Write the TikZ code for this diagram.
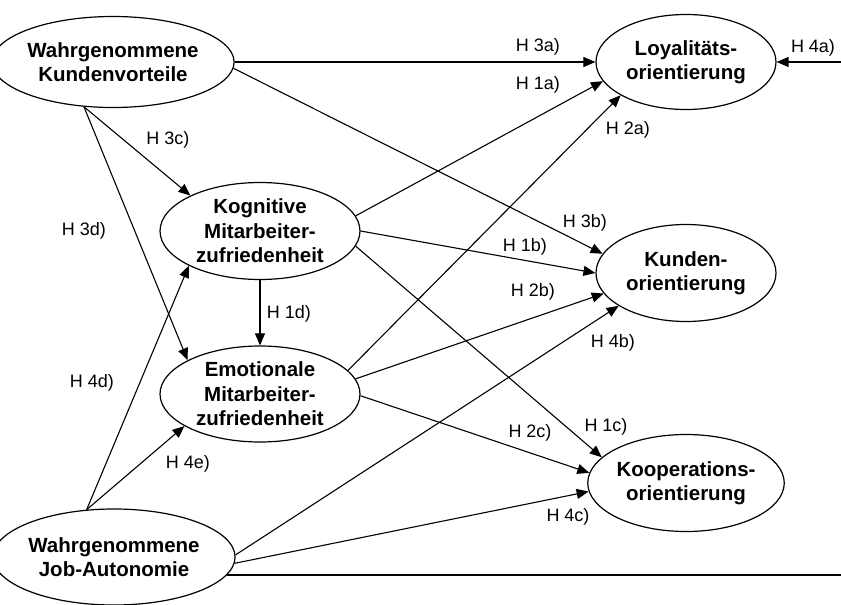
\documentclass[tikz,border=0pt]{standalone}
\usepackage{fontspec}
\setmainfont{Liberation Sans}
\usetikzlibrary{shapes.geometric,arrows.meta}
\begin{document}
\begin{tikzpicture}[x=1pt,y=-1pt,
  var/.style={ellipse,draw,line width=1.2pt,inner sep=0pt,align=center,
    font=\fontsize{20.5}{24.5}\selectfont\bfseries},
  lbl/.style={font=\fontsize{18}{21}\selectfont,inner sep=0pt},
  link/.style={line width=1.1pt,-{Triangle[length=12pt,width=10pt]}},
  plain/.style={line width=1.4pt}]
\useasboundingbox (0,0) rectangle (841,605);

\node[var,minimum width=200pt,minimum height=91pt] (kv) at (113,62) {Wahrgenommene\\Kundenvorteile};
\node[var,minimum width=180pt,minimum height=95pt] (loy) at (686,62) {Loyalitäts-\\orientierung};
\node[var,minimum width=200pt,minimum height=97pt] (kog) at (260,231) {Kognitive\\Mitarbeiter-\\zufriedenheit};
\node[var,minimum width=200pt,minimum height=96pt] (emo) at (260,394) {Emotionale\\Mitarbeiter-\\zufriedenheit};
\node[var,minimum width=180pt,minimum height=97pt] (kun) at (686,273) {Kunden-\\orientierung};
\node[var,minimum width=180pt,minimum height=97pt] (koo) at (686,483) {Kooperations-\\orientierung};
\node[var,minimum width=198pt,minimum height=96pt] (job) at (114,557) {Wahrgenommene\\Job-Autonomie};

\coordinate (tr) at (841,62);
\coordinate (br) at (841,573);

\draw[link] (kv.east) -- (loy.west);
\draw[link] (kv.-3) -- (kun.167);
\draw[link] (kv.-123) -- (kog.153);
\draw[link] (kv.-123) -- (emo.155);
\draw[link] (kog.south) -- (emo.north);
\draw[link] (kog.9) -- (loy.-167);
\draw[link] (kog.east) -- (kun.west);
\draw[link] (kog.-9) -- (koo.163);
\draw[link] (emo.15) -- (loy.-153);
\draw[link] (emo.9) -- (kun.-166);
\draw[link] (emo.-1) -- (koo.174);
\draw[link] (job.120) -- (kog.-154);
\draw[link] (job.120) -- (emo.-157);
\draw[link] (job.1) -- (kun.-154);
\draw[link] (job.-3) -- (koo.-175);
\draw[plain] (job.-9) -- (br |- job.-9);
\draw[link] (tr) -- (loy.east);

\node[lbl] (l3a) at (538,47) {H 3a)};
\node[lbl] (l1a) at (538,85) {H 1a)};
\node[lbl] (l2a) at (628,130) {H 2a)};
\node[lbl] (l4a) at (813,48) {H 4a)};
\node[lbl] (l3b) at (585,223) {H 3b)};
\node[lbl] (l1b) at (525,247) {H 1b)};
\node[lbl] (l2b) at (533,292) {H 2b)};
\node[lbl] (l4b) at (613,343) {H 4b)};
\node[lbl] (l1c) at (606,427) {H 1c)};
\node[lbl] (l2c) at (530,433) {H 2c)};
\node[lbl] (l4c) at (568,517) {H 4c)};
\node[lbl] (l3c) at (168,140) {H 3c)};
\node[lbl] (l3d) at (84,231) {H 3d)};
\node[lbl] (l4d) at (92,383) {H 4d)};
\node[lbl] (l4e) at (188,464) {H 4e)};
\node[lbl] (l1d) at (289,314) {H 1d)};
\end{tikzpicture}
\end{document}
